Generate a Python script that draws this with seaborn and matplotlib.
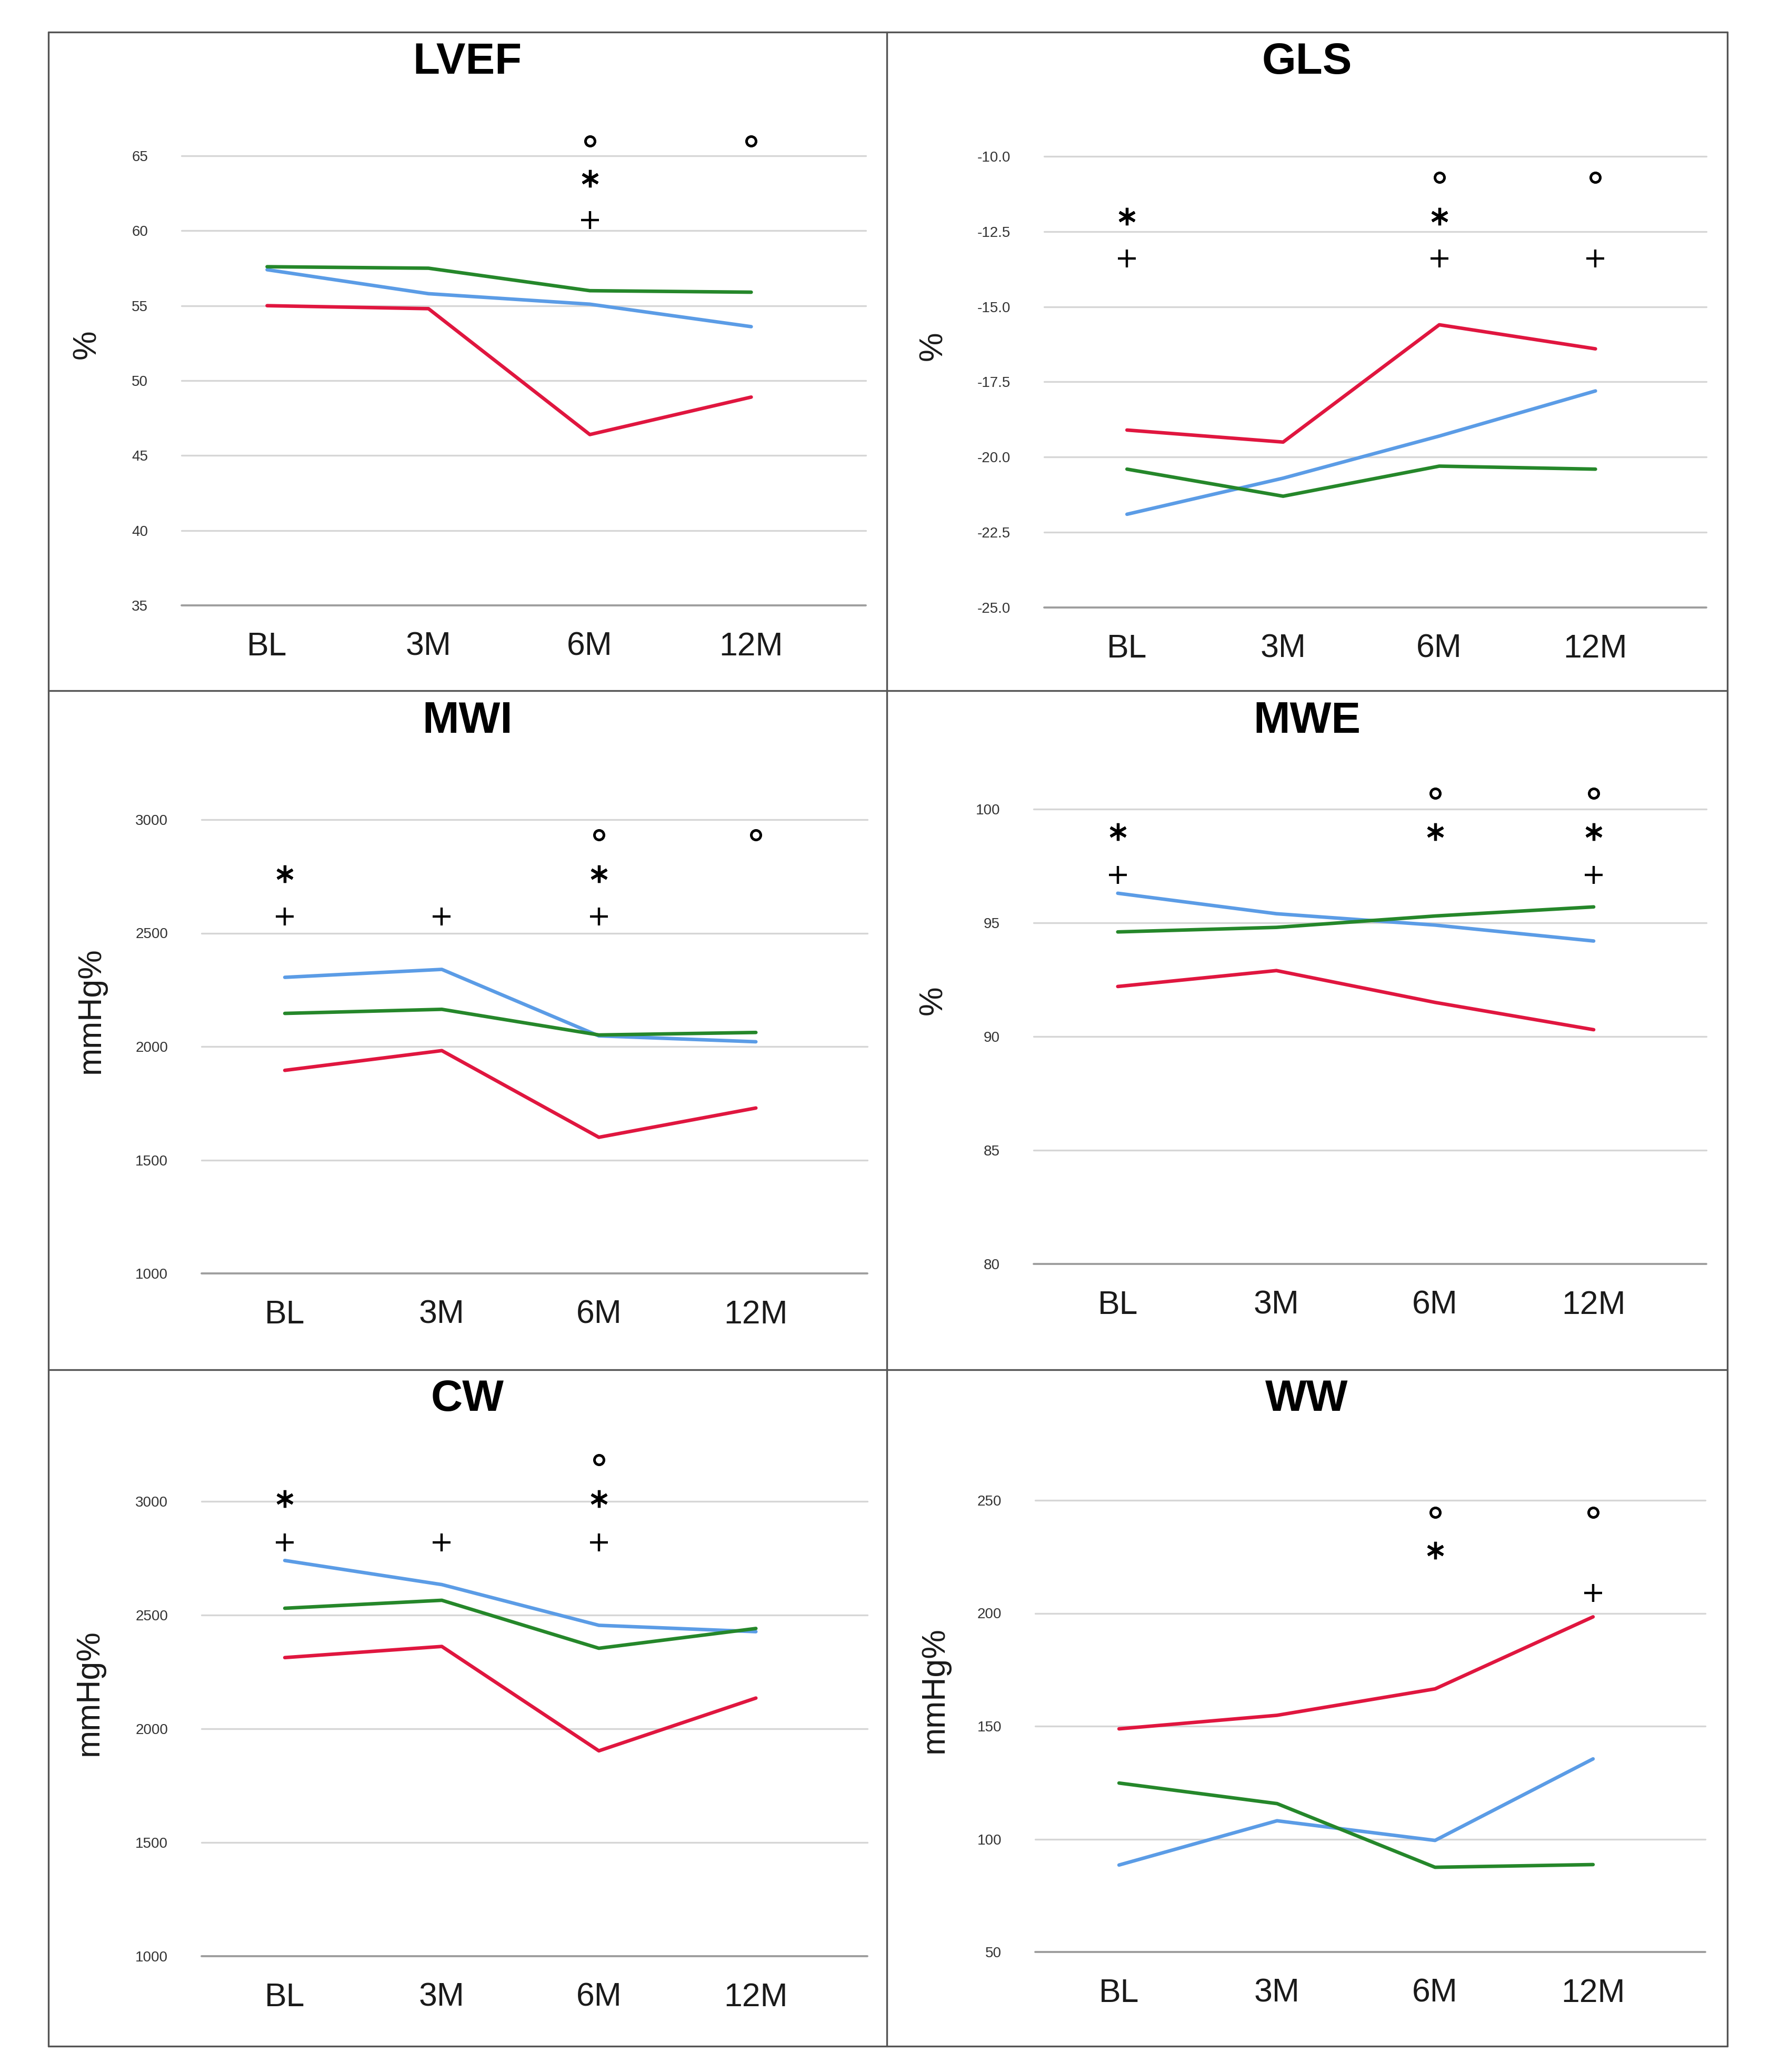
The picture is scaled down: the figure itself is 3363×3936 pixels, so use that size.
import matplotlib
matplotlib.use("Agg")
import matplotlib.pyplot as plt
from matplotlib.lines import Line2D
import numpy as np
import pandas as pd
import seaborn as sns

# Time points and groups (red / blue / green lines)
timepoints = ["BL", "3M", "6M", "12M"]
groups = ["Group 1", "Group 2", "Group 3"]
palette = {"Group 1": "#E0163F", "Group 2": "#5B9CE6", "Group 3": "#25872A"}

# Values
lvef_red = [55.0, 54.8, 46.4, 48.9]
lvef_blue = [57.4, 55.8, 55.1, 53.6]
lvef_green = [57.6, 57.5, 56.0, 55.9]

gls_red = [-19.1, -19.5, -15.6, -16.4]
gls_blue = [-21.9, -20.7, -19.3, -17.8]
gls_green = [-20.4, -21.3, -20.3, -20.4]

mwi_red = [1895, 1982, 1600, 1729]
mwi_blue = [2305, 2340, 2047, 2021]
mwi_green = [2146, 2164, 2051, 2062]

mwe_red = [92.2, 92.9, 91.5, 90.3]
mwe_blue = [96.3, 95.4, 94.9, 94.2]
mwe_green = [94.6, 94.8, 95.3, 95.7]

cw_red = [2313, 2362, 1903, 2135]
cw_blue = [2740, 2634, 2455, 2427]
cw_green = [2530, 2565, 2354, 2441]

ww_red = [148.8, 154.8, 166.5, 198.4]
ww_blue = [88.5, 108.1, 99.4, 135.5]
ww_green = [124.8, 115.7, 87.5, 88.7]

# y ticks per panel
lvef_ticks = [35, 40, 45, 50, 55, 60, 65]
gls_ticks = [-25.0, -22.5, -20.0, -17.5, -15.0, -12.5, -10.0]
mwi_ticks = [1000, 1500, 2000, 2500, 3000]
mwe_ticks = [80, 85, 90, 95, 100]
cw_ticks = [1000, 1500, 2000, 2500, 3000]
ww_ticks = [50, 100, 150, 200, 250]

# significance symbols per time point, and the height of each symbol row (o, *, +)
lvef_sig = ["", "", "o*+", "o"]
lvef_sig_rows = [66.0, 63.5, 60.7]
gls_sig = ["*+", "", "o*+", "o+"]
gls_sig_rows = [-10.7, -12.0, -13.4]
mwi_sig = ["*+", "+", "o*+", "o"]
mwi_sig_rows = [2932, 2760, 2574]
mwe_sig = ["*+", "", "o*", "o*+"]
mwe_sig_rows = [100.7, 99.0, 97.1]
cw_sig = ["*+", "+", "o*+", ""]
cw_sig_rows = [3183, 3012, 2819]
ww_sig = ["", "", "o*", "o+"]
ww_sig_rows = [244.6, 227.8, 209.0]

sns.set_style("white")
plt.rcParams['font.family'] = ['Liberation Sans', 'DejaVu Sans']

W, H = 3363, 3936
fig = plt.figure(figsize=(W / 100, H / 100), dpi=100)

sym_style = {
    "o": dict(marker="o", markersize=13, markerfacecolor="none", markeredgewidth=3.6),
    "*": dict(marker=(6, 2, 0), markersize=24, markeredgewidth=3.8),
    "+": dict(marker="+", markersize=24, markeredgewidth=3.2),
}
sym_row = {"o": 0, "*": 1, "+": 2}


def draw_panel(title, ylabel, red, blue, green, ticks, sig, sig_rows, box, ylabel_x, title_pos):
    left, right, top, bottom = box
    ax = fig.add_axes([left / W, 1 - bottom / H, (right - left) / W, (bottom - top) / H])
    df = pd.DataFrame({
        "x": np.tile(np.arange(len(timepoints)), 3),
        "value": blue + green + red,
        "group": np.repeat([groups[1], groups[2], groups[0]], len(timepoints)),
    })
    sns.lineplot(data=df, x="x", y="value", hue="group", palette=palette,
                 linewidth=4.8, legend=False, ax=ax, sort=False, zorder=3)

    # gridlines
    for t in ticks:
        if t == ticks[0]:
            ax.axhline(t, color="#9E9E9E", lw=2.8, clip_on=False, zorder=1)
        else:
            ax.axhline(t, color="#D6D6D6", lw=2.4, clip_on=False, zorder=1)

    # significance symbols
    for i, s in enumerate(sig):
        for ch in s:
            ax.plot(i, sig_rows[sym_row[ch]], color="black", linestyle="none",
                    clip_on=False, zorder=4, **sym_style[ch])

    ax.set_xlim(-0.53, 3.71)
    ax.set_ylim(ticks[0], ticks[-1])
    ax.set_xticks(range(len(timepoints)), timepoints)
    if isinstance(ticks[0], float):
        labels = [f"{t:.1f}" for t in ticks]
    else:
        labels = [str(t) for t in ticks]
    ax.set_yticks(ticks, labels)
    ax.tick_params(axis="x", length=0, pad=35, labelsize=45, labelcolor="#1a1a1a")
    ax.tick_params(axis="y", length=0, pad=46, labelcolor="#333333")
    for lab in ax.get_yticklabels():
        lab.set_fontsize(20)
        lab.set_family(['Liberation Sans Narrow', 'Liberation Sans'])
    for sp in ax.spines.values():
        sp.set_visible(False)
    ax.set_xlabel("")
    ax.set_ylabel(ylabel, fontsize=45, color="#1a1a1a")
    ax.yaxis.set_label_coords((ylabel_x + 34 - left) / (right - left), 0.58)
    ax.patch.set_alpha(0)
    fig.text(title_pos[0] / W, 1 - title_pos[1] / H, title, ha="center", va="center",
             fontsize=60, fontweight="bold", color="black")
    return ax


draw_panel("LVEF", "%", lvef_red, lvef_blue, lvef_green, lvef_ticks, lvef_sig, lvef_sig_rows,
           (345, 1645, 296, 1150), 160, (888, 118))
draw_panel("GLS", "%", gls_red, gls_blue, gls_green, gls_ticks, gls_sig, gls_sig_rows,
           (1984, 3242, 297, 1154), 1768, (2483, 118))
draw_panel("MWI", "mmHg%", mwi_red, mwi_blue, mwi_green, mwi_ticks, mwi_sig, mwi_sig_rows,
           (383, 1648, 1557, 2419), 168, (888, 1370))
draw_panel("MWE", "%", mwe_red, mwe_blue, mwe_green, mwe_ticks, mwe_sig, mwe_sig_rows,
           (1964, 3242, 1537, 2401), 1768, (2483, 1370))
draw_panel("CW", "mmHg%", cw_red, cw_blue, cw_green, cw_ticks, cw_sig, cw_sig_rows,
           (383, 1648, 2852, 3716), 165, (888, 2658))
draw_panel("WW", "mmHg%", ww_red, ww_blue, ww_green, ww_ticks, ww_sig, ww_sig_rows,
           (1967, 3240, 2850, 3708), 1771, (2483, 2658))

# panel borders
x0, x1, xm = 92, 3282, 1685
y0, y1 = 61, 3887
border = dict(color="#555555", lw=2.4)
for y in [y0, 1312, 2602, y1]:
    fig.add_artist(Line2D([x0 / W, x1 / W], [1 - y / H, 1 - y / H], **border))
for x in [x0, xm, x1]:
    fig.add_artist(Line2D([x / W, x / W], [1 - y0 / H, 1 - y1 / H], **border))

fig.savefig("out.png", dpi=100, facecolor="white")
